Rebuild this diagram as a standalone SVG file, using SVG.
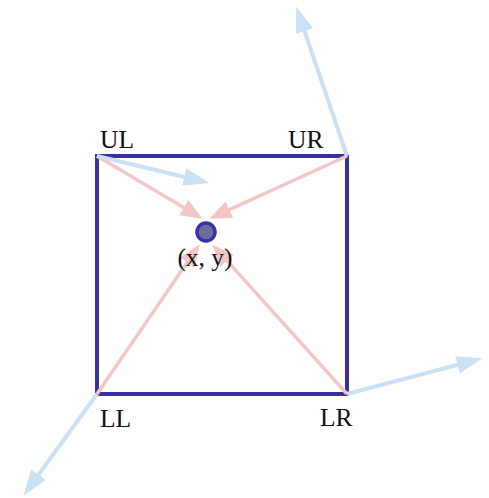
<svg xmlns="http://www.w3.org/2000/svg" width="489" height="498" viewBox="0 0 489 498">
<style>
.lbl{font-family:"Liberation Serif","Times New Roman",serif;font-size:25.5px;fill:#111}
.blue{stroke:#cce0f3;stroke-width:4;fill:none}
.pink{stroke:#f3c6c6;stroke-width:3.5;fill:none}
</style>
<defs>
<marker id="hb" markerUnits="userSpaceOnUse" markerWidth="27" markerHeight="19" refX="0.5" refY="9" orient="auto">
<path d="M0,0 L26,9 L0,18 Z" fill="#cce0f3"/>
</marker>
<marker id="hp" markerUnits="userSpaceOnUse" markerWidth="23" markerHeight="19" refX="0.5" refY="9" orient="auto">
<path d="M0,0 L22,9 L0,18 Z" fill="#f3c6c6"/>
</marker>
</defs>
<rect width="489" height="498" fill="#fff"/>
<g id="square">
<rect x="97" y="156" width="250" height="238" fill="none" stroke="#3a30a0" stroke-width="4"/>
</g>
<g id="connectors">
<line class="pink" x1="97" y1="156" x2="184.1" y2="207.8" marker-end="url(#hp)"/>
<line class="pink" x1="347" y1="156" x2="229" y2="209.9" marker-end="url(#hp)"/>
<line class="pink" x1="97" y1="394" x2="187.5" y2="262.1" marker-end="url(#hp)"/>
<line class="pink" x1="347" y1="394" x2="226.7" y2="260.4" marker-end="url(#hp)"/>
<line class="blue" x1="97" y1="156" x2="184.7" y2="177" marker-end="url(#hb)"/>
<line class="blue" x1="347" y1="156" x2="304.4" y2="30.6" marker-end="url(#hb)"/>
<line class="blue" x1="97" y1="394" x2="38.3" y2="475" marker-end="url(#hb)"/>
<line class="blue" x1="347" y1="394" x2="457.9" y2="364.7" marker-end="url(#hb)"/>
</g>
<g id="center">
<circle cx="206" cy="232" r="9" fill="#6e6e9e" stroke="#3a30a8" stroke-width="3.5"/>
<text class="lbl" x="205" y="266" text-anchor="middle">(x, y)</text>
</g>
<g id="UL"><text class="lbl" x="100" y="148">UL</text></g>
<g id="UR"><text class="lbl" x="288" y="148">UR</text></g>
<g id="LL"><text class="lbl" x="100" y="427">LL</text></g>
<g id="LR"><text class="lbl" x="320" y="426">LR</text></g>
</svg>
